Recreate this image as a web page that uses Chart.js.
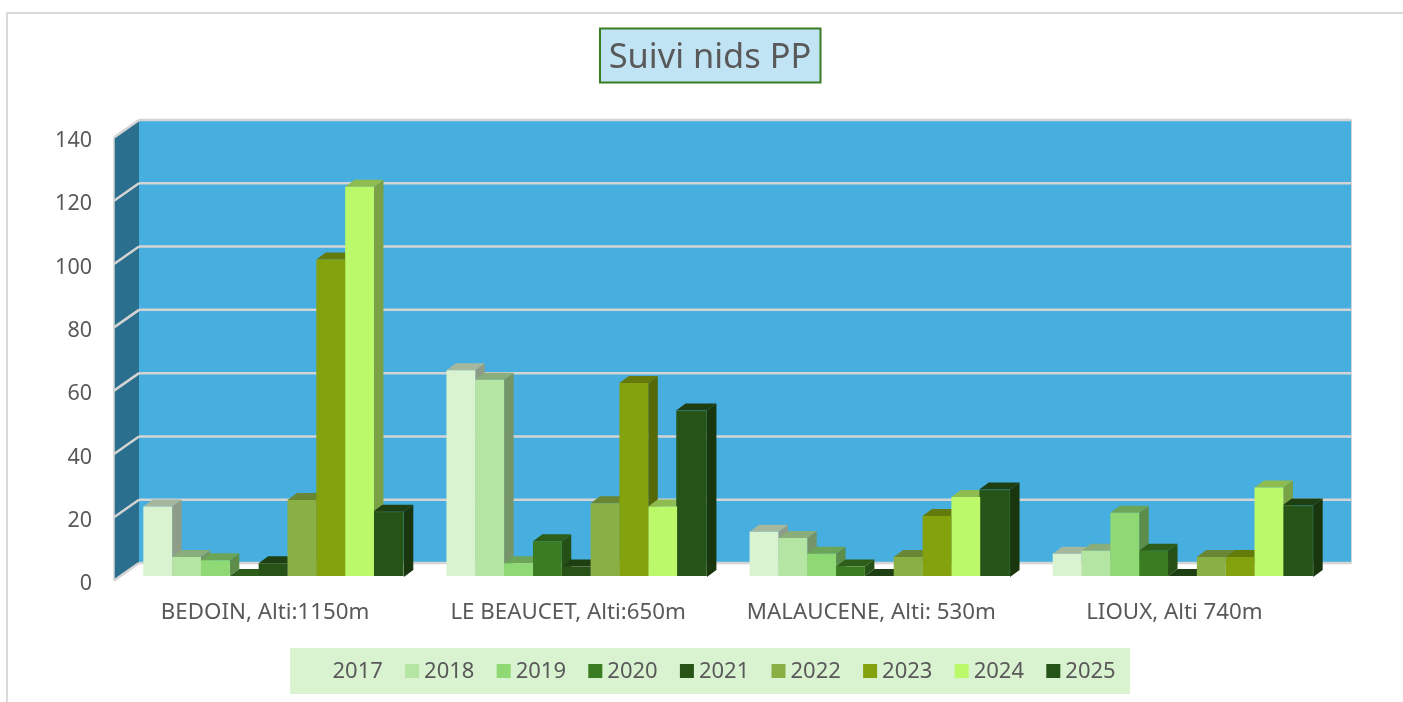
<!DOCTYPE html>
<html>
<head>
<meta charset="utf-8">
<title>Suivi nids PP</title>
<script src="https://cdn.jsdelivr.net/npm/chart.js@4"></script>
<style>
  html, body { margin: 0; padding: 0; background: #fff; }
  canvas { display: block; }
</style>
</head>
<body>
<canvas id="chart" width="1403" height="702"></canvas>
<script>
const titleText = "Suivi nids PP"
const categories = ["BEDOIN, Alti:1150m", "LE BEAUCET, Alti:650m", "MALAUCENE, Alti: 530m", "LIOUX, Alti 740m"]
const years = ["2017", "2018", "2019", "2020", "2021", "2022", "2023", "2024", "2025"]
const colors = ["#D9F2D0", "#B4E5A2", "#8ED973", "#3A7C22", "#275317", "#8AB045", "#84A10E", "#BBF86A", "#265317"]

const v2017 = [22, 65, 14, 7]
const v2018 = [6, 62, 12, 8]
const v2019 = [5, 4, 7, 20]
const v2020 = [0, 11, 3, 8]
const v2021 = [4, 3, 0, 0]
const v2022 = [24, 23, 6, 6]
const v2023 = [100, 61, 19, 6]
const v2024 = [123, 22, 25, 28]
const v2025 = [20, 52, 27, 22]
const seriesValues = [v2017, v2018, v2019, v2020, v2021, v2022, v2023, v2024, v2025]

const FONT = '"Noto Sans", sans-serif'
const TEXT = "#595959"
const GRID = "#D4D4D4"

// darken a hex colour, used for the top and side faces of the 3d bars
function shade(hex, k){
    const n = parseInt(hex.slice(1), 16)
    const c = [(n >> 16) & 255, (n >> 8) & 255, n & 255].map(x => Math.round(x * k))
    return `rgb(${c[0]},${c[1]},${c[2]})`
}

function poly(ctx, pts, fill){
    ctx.beginPath()
    pts.forEach((p, i) => i ? ctx.lineTo(p[0], p[1]) : ctx.moveTo(p[0], p[1]))
    ctx.closePath()
    ctx.fillStyle = fill
    ctx.fill()
}

function line(ctx, x1, y1, x2, y2){
    ctx.beginPath()
    ctx.moveTo(x1, y1)
    ctx.lineTo(x2, y2)
    ctx.stroke()
}

// frame, title box, legend panel, walls and grid: all behind the bars
const backdrop = {
    id: "backdrop",
    beforeDraw(chart){
        const { ctx, scales: { y }, chartArea: area } = chart
        ctx.save()

        ctx.strokeStyle = "#DADADA"
        ctx.lineWidth = 2
        line(ctx, 7, 702, 7, 13)
        line(ctx, 6, 13, 1403, 13)

        // title
        ctx.fillStyle = "#C1E4F5"
        ctx.fillRect(600, 28.5, 220.5, 54)
        ctx.strokeStyle = "#3A7C22"
        ctx.lineWidth = 2
        ctx.strokeRect(600, 28.5, 220.5, 54)
        ctx.fillStyle = TEXT
        ctx.font = `34.4px ${FONT}`
        ctx.textAlign = "center"
        ctx.textBaseline = "middle"
        ctx.fillText(titleText, 710, 58)

        // walls, the bars stand between the front edge and the back wall
        const frontX = area.left - 7.5, backX = area.left + 17.5, rightX = area.right + 17.5
        const yBack = v => y.getPixelForValue(v) - 13
        const yFront = v => y.getPixelForValue(v) + 4.5
        poly(ctx, [[frontX, yFront(140)], [backX, yBack(140)], [backX, yBack(0)], [frontX, yFront(0)]], "#2A6F8E")
        poly(ctx, [[backX, yBack(140)], [rightX, yBack(140)], [rightX, yBack(0)], [backX, yBack(0)]], "#46AFE0")

        ctx.strokeStyle = GRID
        ctx.lineWidth = 2.5
        y.ticks.forEach(t => {
            line(ctx, frontX, yFront(t.value), backX, yBack(t.value))
            line(ctx, backX, yBack(t.value), rightX, yBack(t.value))
        })
        ctx.lineWidth = 1.5
        line(ctx, frontX, yFront(140), frontX, yFront(0))
        ctx.lineWidth = 1
        line(ctx, rightX, yBack(140), rightX, yBack(0))

        // legend
        ctx.fillStyle = "#D9F2D0"
        ctx.fillRect(290, 648, 840, 46)
        ctx.font = `22px ${FONT}`
        ctx.textAlign = "left"
        years.forEach((year, i) => {
            const x = 313.5 + i * 91.6
            ctx.fillStyle = colors[i]
            ctx.fillRect(x, 664, 14, 14)
            ctx.fillStyle = TEXT
            ctx.fillText(year, x + 19, 672)
        })
        ctx.restore()
    },
    // top and side faces, left to right so that each bar covers the side of the previous one
    beforeDatasetsDraw(chart){
        const { ctx } = chart
        const dx = 9.5, dy = -7
        ctx.save()
        categories.forEach((_, c) => {
            years.forEach((_, s) => {
                const ds = chart.data.datasets[s]
                const bar = chart.getDatasetMeta(s).data[c]
                const grow = ds.inflateAmount || 0
                const l = bar.x - bar.width / 2 - grow, r = bar.x + bar.width / 2 + grow
                const top = bar.y - grow, base = bar.base + grow
                poly(ctx, [[r, top], [r + dx, top + dy], [r + dx, base + dy], [r, base]], shade(colors[s], 0.65))
                poly(ctx, [[l, top], [l + dx, top + dy], [r + dx, top + dy], [r, top]], shade(colors[s], 0.76))
            })
        })
        ctx.restore()
    }
}

new Chart(document.getElementById("chart"), {
    type: "bar",
    data: {
        labels: categories,
        datasets: years.map((year, i) => ({
            label: year,
            data: seriesValues[i],
            backgroundColor: colors[i],
            borderWidth: year === "2025" ? 1 : 0,
            borderColor: "#2E6126",
            inflateAmount: year === "2025" ? 1 : 0,
            categoryPercentage: 0.856,
            barPercentage: 1,
        })),
    },
    options: {
        responsive: false,
        animation: false,
        layout: { padding: { top: 133, right: 69, bottom: 66, left: 0 } },
        plugins: {
            legend: { display: false },
            title: { display: false },
            tooltip: { enabled: false },
        },
        scales: {
            x: {
                grid: { display: false },
                border: { display: false },
                afterFit: scale => { scale.height = 60 },
                ticks: {
                    color: TEXT,
                    font: { family: FONT, size: 22.3 },
                    padding: 15,
                    labelOffset: -8,
                    maxRotation: 0,
                    autoSkip: false,
                },
            },
            y: {
                min: 0,
                max: 140,
                grid: { display: false },
                border: { display: false },
                afterFit: scale => { scale.width = 121.5 },
                ticks: {
                    stepSize: 20,
                    color: TEXT,
                    font: { family: FONT, size: 21.5 },
                    padding: 21.5,
                    labelOffset: 8,
                },
            },
        },
    },
    plugins: [backdrop],
})
</script>
</body>
</html>
